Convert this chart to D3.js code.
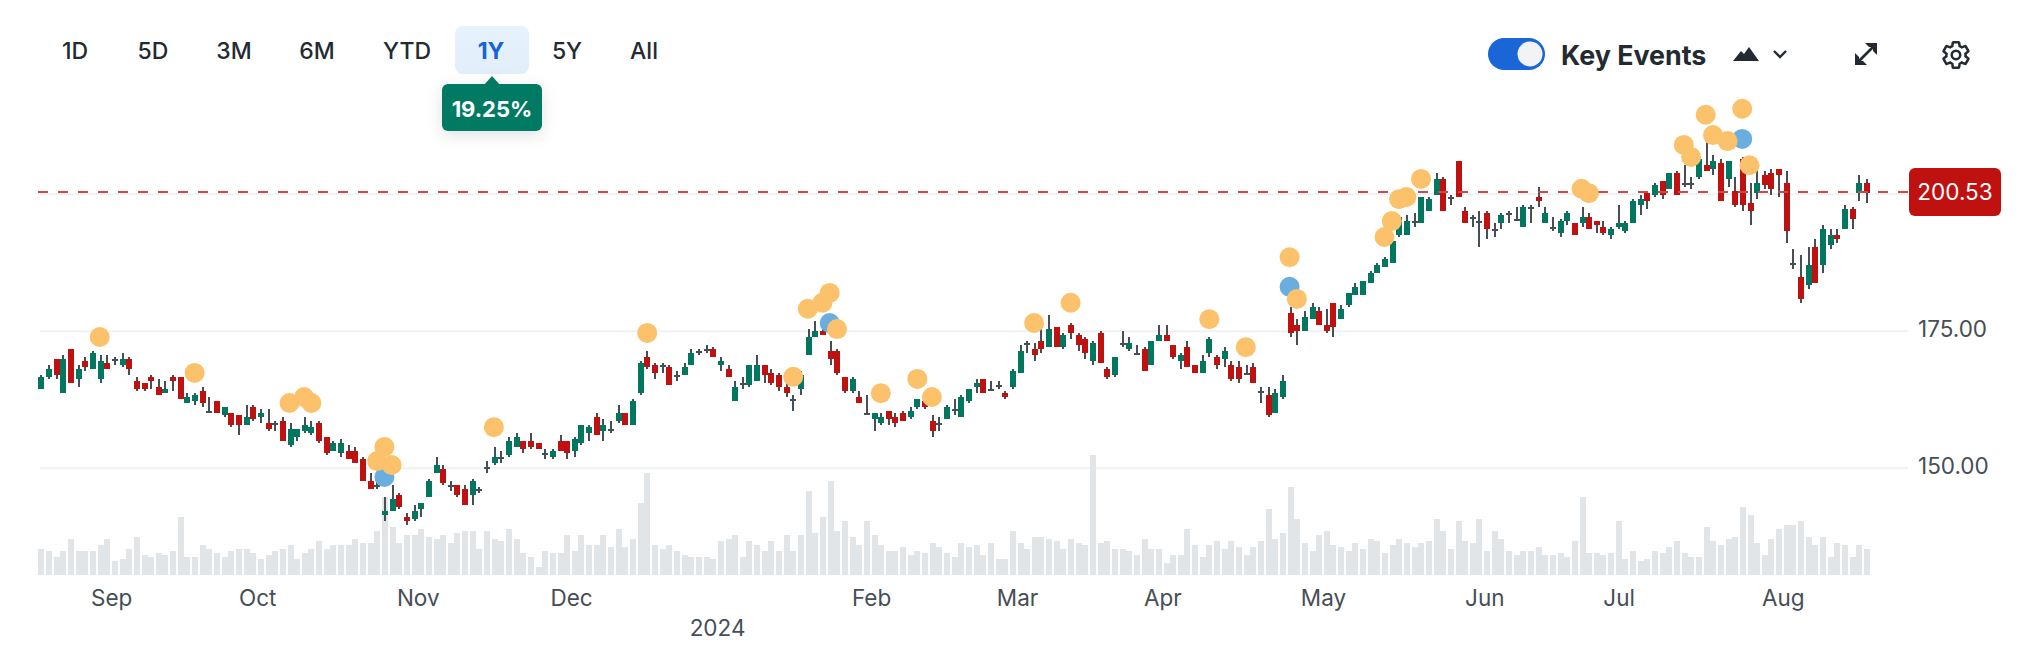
<!DOCTYPE html>
<html><head><meta charset="utf-8">
<script src="https://cdnjs.cloudflare.com/ajax/libs/d3/7.8.5/d3.min.js"></script>
<style>html,body{margin:0;padding:0;background:#fff}svg{display:block}text{font-family:Inter,"Noto Sans",sans-serif}</style>
</head><body><svg id="c" width="2036" height="668"></svg>
<script>
const ranges=["1D","5D","3M","6M","YTD","1Y","5Y","All"];
const activeRange="1Y";
const rangeReturn="19.25%";
const lastPriceLabel="200.53";
const lastPriceLine=200.3;
const gridValues=[150,175,200];
const monthLabels=["Sep","Oct","Nov","Dec","2024","Feb","Mar","Apr","May","Jun","Jul","Aug"];
const monthTickIndex=[9.5,29.5,51.5,72.5,92.5,113.6,133.6,153.5,175.5,197.6,216,238.5];
const openP=[164.4,166.6,169.8,163.6,171.7,166.2,169.5,168.0,166.2,169.1,169.7,168.7,169.8,165.8,165.5,166.6,164.7,163.6,166.6,166.6,
161.8,162.2,164.0,160.5,162.2,159.6,160.0,159.6,157.8,161.1,
159.3,158.2,158.0,158.5,154.1,155.6,156.7,156.3,158.2,155.6,
153.0,152.7,153.0,153.0,151.6,147.6,147.0,141.4,142.1,145.0,
141.0,140.6,142.5,144.6,149.0,149.8,146.7,146.8,146.1,145.0,
146.0,150.0,150.9,152.0,152.3,153.8,154.9,154.9,154.5,152.6,
152.0,154.9,154.9,153.0,154.5,156.3,159.3,156.7,156.9,158.5,
160.0,157.8,163.6,170.2,168.7,168.6,168.4,166.8,166.9,168.7,
171.2,171.8,171.7,168.7,168.0,162.2,165.3,165.1,165.8,168.7,
167.3,166.9,164.7,162.4,164.4,170.6,173.8,174.9,171.3,171.3,
166.6,164.0,162.9,160.1,158.9,158.2,160.3,159.3,160.0,159.3,
161.1,162.2,158.5,158.0,158.9,160.6,159.3,162.2,164.7,166.2,
164.2,165.0,163.6,164.7,167.3,172.8,171.7,173.1,172.0,175.7,
172.0,176.0,174.2,173.5,169.5,174.6,168.0,166.9,172.6,171.7,
170.8,171.7,168.7,173.1,174.2,172.4,169.5,172.0,168.7,167.3,
170.9,170.2,169.8,168.7,168.4,167.4,168.4,163.9,163.3,160.0,
162.9,178.2,176.0,174.9,177.1,178.6,176.0,180.0,177.1,179.7,
181.5,181.5,183.7,185.5,186.6,187.4,192.5,192.5,194.9,194.6,
196.8,199.8,202.7,199.3,206.0,196.8,195.7,194.9,196.5,193.4,
194.6,196.5,195.5,193.9,197.4,199.4,194.6,193.8,192.8,195.0,
194.6,194.6,195.7,195.0,193.9,192.5,193.9,193.2,194.6,197.9,
200.1,199.8,202.3,200.9,203.8,201.8,201.8,203.0,205.2,204.5,
205.6,202.7,200.5,206.3,198.3,200.1,203.4,203.8,204.5,202.0,
187.5,184.8,183.3,190.3,187.0,190.6,192.5,193.6,197.2,200.1,202.0];
const closeP=[166.6,168.0,166.9,169.8,165.5,168.0,168.4,170.9,169.5,168.0,169.7,169.8,168.0,164.4,164.4,165.8,163.3,164.4,165.8,162.5,
162.9,163.3,161.8,160.5,160.0,161.1,157.8,157.8,159.3,158.9,
160.0,157.1,158.0,154.9,157.1,157.1,157.8,157.4,154.9,152.7,
154.5,154.5,151.6,150.9,147.6,146.1,147.0,142.1,144.3,142.8,
140.3,142.1,143.6,147.6,150.5,147.2,146.7,145.0,143.2,147.6,
146.0,150.0,152.0,152.0,154.9,155.6,153.4,153.8,153.4,152.6,
153.0,153.0,152.7,155.2,157.8,157.4,156.0,157.8,156.9,160.0,
157.8,162.2,169.1,168.4,167.3,168.6,165.1,166.8,168.4,170.9,
171.2,171.8,170.2,169.5,166.6,164.7,165.3,168.7,168.7,166.9,
165.5,164.7,163.6,162.4,166.9,173.8,174.9,174.2,169.8,167.3,
164.0,166.2,161.8,160.1,160.0,159.3,158.9,158.2,158.5,160.3,
162.5,161.1,156.7,158.0,161.1,160.6,162.9,164.4,165.5,163.6,
164.2,165.0,162.9,167.6,171.3,172.8,170.6,171.7,175.3,172.0,
174.2,174.6,172.4,170.9,172.8,169.1,166.6,170.2,172.6,172.8,
170.8,167.6,173.1,174.2,173.1,170.2,170.6,168.4,167.3,169.5,
173.5,168.7,171.3,166.2,166.2,167.4,165.5,163.9,159.6,163.6,
165.8,174.6,174.9,177.5,179.3,176.0,174.9,175.6,178.9,181.9,
183.0,184.1,185.5,187.0,188.1,191.4,195.7,195.0,194.9,199.4,
199.0,202.7,196.8,199.3,199.4,194.6,195.7,194.9,193.6,193.4,
196.1,196.5,195.5,197.6,197.4,198.7,196.5,193.8,195.0,196.5,
192.5,195.7,193.6,194.3,192.8,193.6,194.6,194.6,198.7,199.0,
198.7,201.6,199.8,203.8,199.8,201.8,201.8,206.3,204.1,206.0,
198.7,206.0,197.9,197.9,196.8,202.0,201.6,200.9,203.4,193.2,
187.5,180.8,187.0,183.7,193.6,192.5,191.7,197.2,195.4,202.0,200.1];
const highP=[166.9,168.7,169.8,170.6,171.7,168.7,170.2,171.3,170.6,170.6,170.2,170.9,170.2,166.6,165.5,166.9,166.2,165.8,166.9,166.6,
163.6,163.6,164.7,162.9,162.2,161.1,160.0,159.6,161.4,161.4,
160.7,160.7,158.5,159.3,158.2,157.1,159.3,158.5,158.5,155.6,
154.9,155.2,154.1,153.8,152.0,149.0,147.8,144.6,146.8,145.4,
141.7,143.2,143.6,147.9,152.0,150.5,147.6,146.8,146.8,147.9,
146.5,151.2,153.8,153.0,155.6,156.3,154.9,156.3,154.5,153.4,
153.4,156.0,154.9,155.6,157.8,157.8,160.0,158.9,158.5,161.4,
160.0,162.5,169.5,171.3,169.1,169.1,168.7,167.6,169.1,171.7,
171.7,172.4,172.0,170.2,168.7,165.8,166.6,168.7,170.6,168.7,
168.0,167.3,165.5,163.3,167.6,175.3,176.8,175.2,173.1,171.7,
166.6,166.6,164.0,163.3,160.0,160.0,160.3,160.0,160.3,161.1,
162.5,162.5,159.6,159.3,161.4,162.5,163.3,164.4,166.2,166.2,
165.8,165.8,164.0,168.0,172.4,173.1,172.8,176.0,177.9,175.7,
174.6,176.4,174.6,173.9,173.1,174.9,168.4,170.2,174.9,173.9,
172.4,172.0,173.1,176.0,176.0,172.4,170.9,173.1,168.7,170.6,
173.9,170.6,172.0,169.5,169.5,168.7,169.1,164.7,164.7,164.4,
166.9,179.3,177.1,178.6,180.0,179.3,178.9,180.0,179.7,181.9,
183.7,184.1,185.9,187.4,188.4,191.5,196.0,196.1,196.5,199.4,
199.4,203.8,203.0,199.8,206.0,197.6,196.1,196.8,196.8,194.6,
196.5,196.8,197.6,198.0,198.0,201.2,197.6,195.7,195.4,196.8,
194.6,197.6,196.5,195.0,195.0,193.9,198.0,195.0,199.0,199.8,
200.1,202.0,202.3,203.8,204.1,205.2,203.0,206.6,209.6,207.1,
206.3,206.0,203.0,206.7,202.0,204.5,204.1,204.5,204.5,204.1,
189.9,188.8,190.3,191.7,194.3,193.6,193.6,197.9,197.6,203.4,202.7];
const lowP=[164.4,166.2,166.2,163.6,165.5,164.7,167.6,168.0,165.5,168.0,168.7,168.4,166.9,164.0,164.0,164.4,163.3,163.6,164.0,162.5,
161.8,161.4,161.1,160.3,160.0,159.3,157.4,156.0,157.8,158.5,
158.2,156.7,156.7,154.9,153.8,154.9,156.3,156.0,154.5,152.3,
153.0,152.0,151.6,150.9,147.6,146.1,146.1,140.3,142.1,142.5,
139.5,140.3,141.0,144.6,149.0,146.8,145.7,144.6,143.2,143.2,
145.4,149.0,150.5,150.9,152.0,153.8,152.7,153.4,153.4,151.6,
151.6,153.0,151.6,152.0,154.1,154.9,156.0,154.9,156.3,158.2,
157.8,157.8,163.3,168.0,166.2,167.3,165.1,165.8,166.9,168.7,
170.6,170.9,170.2,167.6,166.6,162.2,164.4,164.7,165.8,165.5,
165.1,164.0,162.9,160.3,163.3,170.6,173.8,174.2,168.7,166.9,
163.6,163.6,161.8,159.6,156.7,157.8,157.8,157.4,158.5,158.9,
160.7,160.8,155.6,156.7,158.9,159.6,159.3,161.8,163.6,163.6,
164.0,164.4,162.5,164.4,167.3,170.9,169.5,170.9,172.0,172.0,
171.7,173.5,171.3,169.8,168.7,169.1,166.2,166.6,172.0,171.3,
170.6,167.6,168.7,173.1,173.1,169.9,168.0,168.4,167.3,167.3,
170.2,168.0,168.4,165.8,165.5,166.9,165.5,161.8,159.2,160.0,
162.5,173.8,172.4,174.9,177.1,176.0,174.6,173.8,177.1,179.3,
181.5,181.5,183.7,185.5,186.6,187.4,192.1,192.5,193.9,194.6,
196.8,199.8,196.8,197.9,199.4,194.6,193.9,190.3,191.7,192.1,
193.6,194.6,195.0,193.9,194.6,197.6,194.6,193.2,192.1,194.3,
192.5,193.9,193.6,192.8,192.5,191.7,193.6,192.8,194.6,196.1,
197.2,199.4,199.0,200.9,199.8,201.2,200.9,202.7,204.1,203.4,
198.7,201.2,197.6,196.8,194.3,199.0,200.9,199.8,199.4,191.0,
186.3,180.1,182.6,183.7,185.5,189.9,191.0,193.6,193.6,198.7,198.3];
const volumeM=[26,24,18,24,36,24,24,24,30,36,14,16,26,38,20,18,22,20,24,58,
18,18,30,26,22,18,24,26,26,22,16,20,24,26,30,16,22,26,34,26,
30,30,30,36,32,32,44,78,48,32,40,40,46,38,36,40,32,42,44,44,
26,44,36,34,46,36,22,18,8,
24,22,22,40,24,40,30,30,40,28,46,28,36,72,102,30,26,30,24,20,18,18,18,16,34,36,40,18,34,30,24,34,24,40,24,40,84,42,58,94,44,54,38,30,54,40,30,24,24,28,20,24,22,32,28,22,18,32,28,30,20,32,16,16,44,32,26,38,
38,36,34,26,36,32,30,120,32,34,26,26,24,20,36,26,26,12,20,20,46,30,18,30,34,26,34,28,20,28,34,66,36,42,88,56,32,24,40,44,30,28,24,32,26,36,34,22,30,36,32,28,32,34,56,44,26,54,34,32,56,24,44,36,24,20,24,24,28,20,20,22,18,34,78,22,22,20,22,54,16,24,14,16,24,22,28,34,22,18,18,48,34,30,36,38,68,60,32,20,36,46,50,50,54,38,30,38,18,32,30,18,30,26];
const eventIndex=[47,108,171,233, 8,21,34,36,37,47,46,48,62,83,103,105,107,108,109,115,120,122,136,141,160,165,171,172,184,185,186,187,189,211,212,225,226,228,229,231,233,234];
const eventPrice=[148.3,176.4,183.0,210.0, 173.85,167.3,161.8,162.9,161.8,153.8,151.2,150.5,157.4,174.6,166.6,179.0,180.1,181.9,175.3,163.6,166.2,162.9,176.4,180.1,177.1,172.0,188.4,180.8,192.1,195.0,199.0,199.4,202.7,200.9,200.1,208.9,206.7,214.4,210.7,209.6,215.5,205.2];
const eventKind=["e","e","e","e","k","k","k","k","k","k","k","k","k","k","k","k","k","k","k","k","k","k","k","k","k","k","k","k","k","k","k","k","k","k","k","k","k","k","k","k","k","k"];

const INK="#232a31",AXIS="#464e56",RED="#c01111",GREEN="#00775e",GRID="#f0f1f2",VOL="#e2e5e8";
const svg=d3.select("#c");
const x=d3.scaleLinear().domain([0,250]).range([41.8,1866.8]);
const y=d3.scaleLinear().domain([150,200]).range([467.7,193.7]);
const yVol=d3.scaleLinear().domain([0,120]).range([575,455]);
const snapX=v=>2*Math.floor(v/2)+1;
const snapY=v=>2*Math.round((v-1)/2)+1;
const idx=d3.range(openP.length);

// grid + price axis
const gAxis=svg.append("g").attr("transform","translate(40,0)")
  .call(d3.axisRight(y).tickValues(gridValues).tickSize(1868).tickPadding(10).tickFormat(d=>d===200?"":d3.format(".2f")(d)));
gAxis.select(".domain").remove();
gAxis.selectAll("line").attr("stroke",GRID).attr("stroke-width",2);
gAxis.selectAll("text").attr("fill",AXIS).attr("font-size",22.5).attr("font-family","Inter").attr("y",-1.5);

// volume
svg.append("g").selectAll("rect").data(idx).join("rect")
  .attr("x",i=>snapX(x(i))-3).attr("width",6)
  .attr("y",i=>snapY(yVol(volumeM[i]))).attr("height",i=>575-snapY(yVol(volumeM[i])))
  .attr("fill",VOL);

// month axis
const gX=svg.append("g").attr("transform","translate(0,575)")
  .call(d3.axisBottom(x).tickValues(monthTickIndex).tickSize(0).tickPadding(0).tickFormat((d,i)=>monthLabels[i]));
gX.select(".domain").remove();
gX.selectAll("text").attr("fill",AXIS).attr("font-size",22.5).attr("font-family","Inter")
  .attr("dy",null).attr("dominant-baseline","central")
  .attr("y",d=>monthLabels[monthTickIndex.indexOf(d)]==="2024"?52:22);

// candles
const gC=svg.append("g").attr("shape-rendering","crispEdges");
gC.selectAll("rect.w").data(idx).join("rect").attr("class","w")
  .attr("x",i=>snapX(x(i))-1).attr("width",2)
  .attr("y",i=>snapY(y(highP[i]))).attr("height",i=>Math.max(2,snapY(y(lowP[i]))-snapY(y(highP[i]))))
  .attr("fill",AXIS);
gC.selectAll("rect.b").data(idx).join("rect").attr("class","b")
  .attr("x",i=>snapX(x(i))-3).attr("width",6)
  .attr("y",i=>snapY(y(Math.max(openP[i],closeP[i]))))
  .attr("height",i=>Math.max(2,snapY(y(Math.min(openP[i],closeP[i])))-snapY(y(Math.max(openP[i],closeP[i])))))
  .attr("fill",i=>closeP[i]>openP[i]?GREEN:closeP[i]<openP[i]?RED:AXIS);

// last price line
svg.append("line").attr("x1",38).attr("x2",1909).attr("y1",y(lastPriceLine)).attr("y2",y(lastPriceLine))
  .attr("stroke","#cb4a4a").attr("stroke-width",2).attr("stroke-dasharray","10 10");
svg.append("rect").attr("x",1909).attr("y",168).attr("width",92).attr("height",48).attr("rx",6).attr("fill",RED);
svg.append("text").attr("x",1955).attr("y",191.5).attr("text-anchor","middle").attr("dominant-baseline","central")
  .attr("fill","#fff").attr("font-size",22.5).text(lastPriceLabel);

// events
svg.append("g").selectAll("circle").data(d3.range(eventIndex.length)).join("circle")
  .attr("cx",i=>x(eventIndex[i])-0.5).attr("cy",i=>y(eventPrice[i])).attr("r",10)
  .attr("fill",i=>eventKind[i]==="e"?"#6aaedf":"#fbc26b");

// range tabs
const defs=svg.append("defs");
const f=defs.append("filter").attr("id","sh").attr("x","-40%").attr("y","-40%").attr("width","180%").attr("height","200%");
f.append("feDropShadow").attr("dx",0).attr("dy",4).attr("stdDeviation",8).attr("flood-color","#000").attr("flood-opacity",0.12);
const g2=defs.append("linearGradient").attr("id","tab").attr("x1",0).attr("y1",0).attr("x2",0).attr("y2",1);
g2.append("stop").attr("offset",0).attr("stop-color","#e6f3fe");
g2.append("stop").attr("offset",1).attr("stop-color","#e1eefa");
svg.append("rect").attr("x",455).attr("y",26).attr("width",74).attr("height",48).attr("rx",8).attr("fill","url(#tab)");
const tabCenters=[75,153,234,317,407,491,567,644];
svg.append("g").selectAll("text").data(ranges).join("text")
  .attr("x",(d,i)=>tabCenters[i]).attr("y",50.5).attr("text-anchor","middle").attr("dominant-baseline","central")
  .attr("font-size",23).attr("font-weight",d=>d===activeRange?700:500)
  .attr("fill",d=>d===activeRange?"#1463d9":INK).text(d=>d);
const tip=svg.append("g").attr("filter","url(#sh)");
tip.append("rect").attr("x",442).attr("y",84).attr("width",100).attr("height",47).attr("rx",6).attr("fill","#007a62");
tip.append("path").attr("d","M484 85L492 76L500 85Z").attr("fill","#007a62");
svg.append("text").attr("x",492).attr("y",109).attr("text-anchor","middle").attr("dominant-baseline","central")
  .attr("fill","#fff").attr("font-size",22).attr("font-weight",700).text(rangeReturn);

// toolbar
svg.append("rect").attr("x",1488).attr("y",38).attr("width",57).attr("height",32).attr("rx",16).attr("fill","#1a66d6");
svg.append("circle").attr("cx",1530).attr("cy",54).attr("r",12.5).attr("fill","#f1f3f5");
svg.append("text").attr("x",1561).attr("y",55).attr("dominant-baseline","central").attr("font-size",26.8).attr("font-weight",700)
  .attr("fill",INK).text("Key Events");
svg.append("path").attr("d","M1733 61L1741 51L1744 54L1749 47L1759 61Z").attr("fill",INK);
svg.append("path").attr("d","M1774 51L1780 57L1786 51").attr("fill","none").attr("stroke",INK).attr("stroke-width",2.4);
const exp=svg.append("g").attr("fill",INK);
exp.append("path").attr("d","M1859 61L1873 47").attr("stroke",INK).attr("stroke-width",2.6);
exp.append("path").attr("d","M1865 43H1877V55L1873 51V47H1869Z");
exp.append("path").attr("d","M1855 53L1859 57V61H1863L1867 65H1855Z");
svg.append("g").attr("transform","translate(1940,39) scale(1.33)")
  .call(g=>{g.append("path").attr("d","M19.14 12.94c.04-.3.06-.61.06-.94 0-.32-.02-.64-.07-.94l2.03-1.58c.18-.14.23-.41.12-.61l-1.92-3.32c-.12-.22-.37-.29-.59-.22l-2.39.96c-.5-.38-1.03-.7-1.62-.94l-.36-2.54c-.04-.24-.24-.41-.48-.41h-3.84c-.24 0-.43.17-.47.41l-.36 2.54c-.59.24-1.13.57-1.62.94l-2.39-.96c-.22-.08-.47 0-.59.22L2.74 8.87c-.12.21-.08.47.12.61l2.03 1.58c-.05.3-.09.63-.09.94s.02.64.07.94l-2.03 1.58c-.18.14-.23.41-.12.61l1.92 3.32c.12.22.37.29.59.22l2.39-.96c.5.38 1.03.7 1.62.94l.36 2.54c.05.24.24.41.48.41h3.84c.24 0 .44-.17.47-.41l.36-2.54c.59-.24 1.13-.56 1.62-.94l2.39.96c.22.08.47 0 .59-.22l1.92-3.32c.12-.22.07-.47-.12-.61l-2.01-1.58z")
    .attr("fill","none").attr("stroke",INK).attr("stroke-width",1.9);
    g.append("circle").attr("cx",12).attr("cy",12).attr("r",3.2).attr("fill","none").attr("stroke",INK).attr("stroke-width",1.9);});
</script></body></html>
